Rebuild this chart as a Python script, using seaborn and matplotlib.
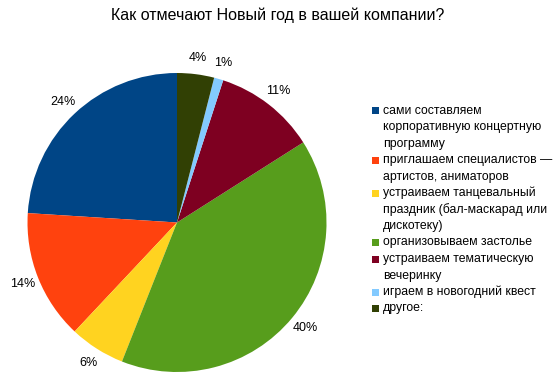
import matplotlib
matplotlib.use("Agg")
import matplotlib.pyplot as plt
from matplotlib.patches import Rectangle
import seaborn as sns

# --- DATA ---
TITLE = "Как отмечают Новый год в вашей компании?"
CATEGORIES = [
    "сами составляем\nкорпоративную концертную\nпрограмму",
    "приглашаем специалистов —\nартистов, аниматоров",
    "устраиваем танцевальный\nпраздник (бал-маскарад или\nдискотеку)",
    "организовываем застолье",
    "устраиваем тематическую\nвечеринку",
    "играем в новогодний квест",
    "другое:",
]
SHARES = [24, 14, 6, 40, 11, 1, 4]
COLORS = ["#004586", "#ff420e", "#ffd320", "#579d1c", "#7e0021", "#83caff", "#314004"]

W, H = 558, 384

sns.set_theme(style="white")
plt.rcParams["font.family"] = ["Liberation Sans", "DejaVu Sans"]

fig = plt.figure(figsize=(W / 100, H / 100), dpi=100)
fig.patch.set_facecolor("white")

# pie area: centre (177, 222.5), radius ~149.5 px
ax = fig.add_axes([27.5 / W, 12 / H, 299 / W, 299 / H])
ax.pie(SHARES, colors=COLORS, startangle=90, counterclock=True,
       autopct="%.0f%%", pctdistance=1.11, radius=1.0,
       wedgeprops=dict(linewidth=0),
       textprops=dict(fontsize=9, color="black"))
ax.set_xlim(-1, 1)
ax.set_ylim(-1, 1)
ax.set_aspect("equal")
ax.axis("off")

fig.text(0.5 * (113 + 443) / W, 1 - 15 / H, TITLE, ha="center", va="center",
         fontsize=11.5, color="black")

# legend: marker aligned with first line of each entry
line_h = 16.5
y0 = 110.5
line = 0
for label, color in zip(CATEGORIES, COLORS):
    yc = y0 + line_h * line
    fig.add_artist(Rectangle((372 / W, 1 - (yc + 3.5) / H), 7 / W, 7 / H,
                             transform=fig.transFigure, facecolor=color,
                             edgecolor="none"))
    for i, part in enumerate(label.split("\n")):
        fig.text(383 / W, 1 - (yc + line_h * i) / H, part, ha="left",
                 va="center", fontsize=8.8, color="black")
    line += len(label.split("\n"))

fig.savefig("out.png", dpi=100)
